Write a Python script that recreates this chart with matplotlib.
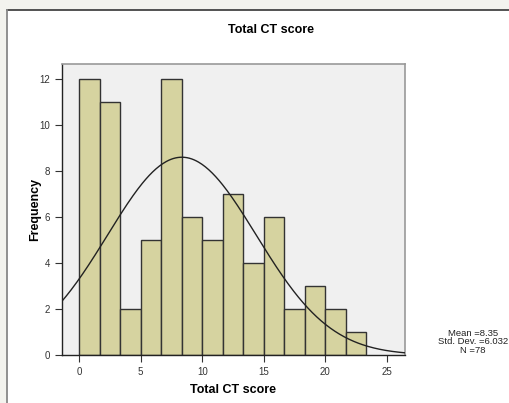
import numpy as np
import matplotlib.pyplot as plt
from matplotlib.patches import Rectangle
from matplotlib.lines import Line2D

plt.rcParams['font.family'] = ['Liberation Sans', 'DejaVu Sans']

# histogram of Total CT score, bins of 5/3 starting at 0
bin_edges = np.arange(15) * (5.0 / 3.0)
counts = [12, 11, 2, 5, 12, 6, 5, 7, 4, 6, 2, 3, 2, 1]
mean = 8.35
std = 6.032
n = 78
x_ticks = [0, 5, 10, 15, 20, 25]
y_ticks = [0, 2, 4, 6, 8, 10, 12]

fig = plt.figure(figsize=(5.10, 4.03), dpi=100)
fig.patch.set_facecolor('#f3f3ee')

# white chart panel (behind the axes), runs off the right and bottom edges
px, py = 7 / 510, 1 - 10 / 403
fig.patches.append(Rectangle((px, 0), 1 - px, py, transform=fig.transFigure,
                             facecolor='white', edgecolor='none', zorder=-5))
fig.lines.append(Line2D([px, 1], [py, py], transform=fig.transFigure,
                        color='#444444', linewidth=1.3, zorder=-4))
fig.lines.append(Line2D([px, px], [0, py], transform=fig.transFigure,
                        color='#888888', linewidth=1.3, zorder=-4))

ax = fig.add_axes([62 / 510, 1 - 355 / 403, (405 - 62) / 510, (355 - 64) / 403])
ax.set_facecolor('#f0f0f0')

width = bin_edges[1] - bin_edges[0]
ax.bar(bin_edges[:-1], counts, width=width, align='edge',
       color='#d6d3a0', edgecolor='#333333', linewidth=1.0, zorder=2)

xs = np.linspace(-1.38, 26.46, 300)
ys = n * width / (std * np.sqrt(2 * np.pi)) * np.exp(-0.5 * ((xs - mean) / std) ** 2)
ax.plot(xs, ys, color='#222222', linewidth=1.0, zorder=3)

ax.set_xlim(-1.38, 26.46)
ax.set_ylim(0, 12.65)
ax.set_xticks(x_ticks)
ax.set_yticks(y_ticks)
ax.tick_params(labelsize=7, colors='#333333', length=5, width=0.8)

for s in ['top', 'right']:
    ax.spines[s].set_color('#999999')
    ax.spines[s].set_linewidth(1.2)
for s in ['left', 'bottom']:
    ax.spines[s].set_color('#222222')
    ax.spines[s].set_linewidth(1.0)

ax.set_xlabel('Total CT score', fontsize=9, fontweight='bold', labelpad=5)
ax.set_ylabel('Frequency', fontsize=9, fontweight='bold', labelpad=-1)

fig.text(271 / 510, 1 - 30 / 403, 'Total CT score', ha='center', va='center',
         fontsize=9, fontweight='bold')
fig.text(473 / 510, 1 - 342 / 403, 'Mean =%.2f\nStd. Dev. =%.3f\nN =%d' % (mean, std, n),
         ha='center', va='center', fontsize=6.8, color='#222222', linespacing=0.95)

fig.savefig('out.png', dpi=100, facecolor=fig.get_facecolor())
